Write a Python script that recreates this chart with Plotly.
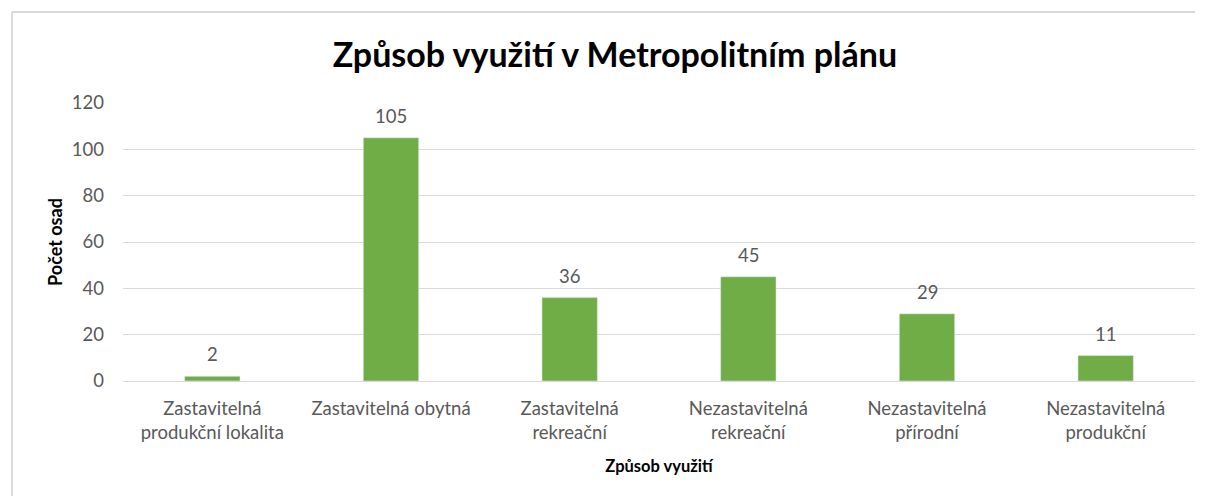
import plotly.graph_objects as go

categories = [
    "Zastavitelná<br>produkční lokalita",
    "Zastavitelná obytná",
    "Zastavitelná<br>rekreační",
    "Nezastavitelná<br>rekreační",
    "Nezastavitelná<br>přírodní",
    "Nezastavitelná<br>produkční",
]
values = [2, 105, 36, 45, 29, 11]
y_ticks = [0, 20, 40, 60, 80, 100, 120]

FONT = "Lato"
GRAY = "#595959"
BORDER = "#d9d9d9"

fig = go.Figure(
    go.Bar(
        x=categories,
        y=values,
        marker_color="#70ad47",
        hoverinfo="x+y",
    )
)

for c, v in zip(categories, values):
    fig.add_annotation(
        x=c, y=v, text=str(v), showarrow=False,
        yanchor="middle", yshift=22,
        font=dict(family=FONT, size=18.5, color=GRAY),
    )

fig.update_layout(
    width=1197,
    height=488,
    margin=dict(l=115, r=10, t=95, b=115),
    paper_bgcolor="white",
    plot_bgcolor="white",
    bargap=0.69,
    showlegend=False,
    title=dict(
        text="<b>Způsob využití v Metropolitním plánu</b>",
        x=0.507,
        xanchor="center",
        y=1 - 47 / 488,
        yanchor="middle",
        font=dict(family=FONT, size=34, color="black"),
    ),
    font=dict(family=FONT, size=18.5, color=GRAY),
    xaxis=dict(
        showgrid=False,
        showline=True,
        linecolor=BORDER,
        linewidth=1,
        ticks="",
        ticklabelstandoff=11,
        tickfont=dict(family=FONT, size=18.5, color=GRAY),
        title=dict(
            text="<b>Způsob využití</b>",
            font=dict(family=FONT, size=16.5, color="black"),
            standoff=18,
        ),
    ),
    yaxis=dict(
        range=[0, 120],
        tickvals=y_ticks,
        showgrid=True,
        gridcolor=BORDER,
        gridwidth=1,
        zeroline=False,
        showline=False,
        ticks="",
        ticklabelstandoff=18,
        tickfont=dict(family=FONT, size=18.5, color=GRAY),
        title=dict(
            text="<b>Počet osad</b>",
            font=dict(family=FONT, size=18, color="black"),
            standoff=4,
        ),
    ),
    shapes=[
        dict(
            type="line", xref="paper", yref="paper",
            x0=-0.1035, x1=1.0, y0=1.327, y1=1.327,
            line=dict(color=BORDER, width=2), layer="below",
        ),
        dict(
            type="line", xref="paper", yref="paper",
            x0=-0.1035, x1=-0.1035, y0=1.327, y1=-0.6,
            line=dict(color=BORDER, width=2), layer="below",
        ),
    ],
)

fig.write_html("out.html")
